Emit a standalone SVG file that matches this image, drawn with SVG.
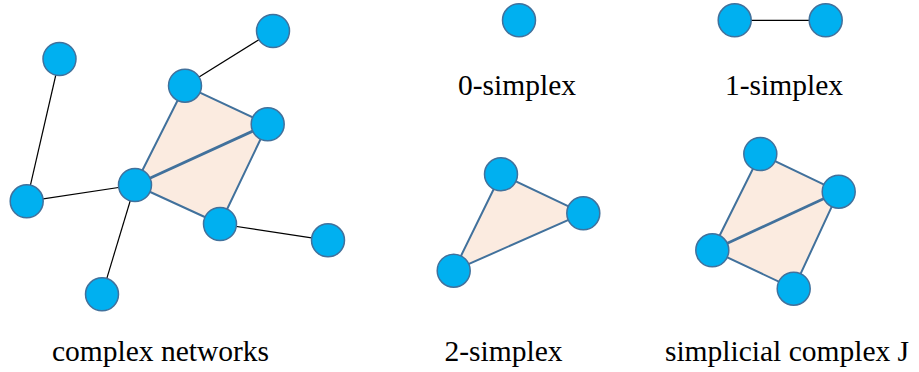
<svg xmlns="http://www.w3.org/2000/svg" width="919" height="372" viewBox="0 0 919 372">
<style>
.n{fill:#00B0F0;stroke:#41719C;stroke-width:1.5}
.e{stroke:#000;stroke-width:1.2;fill:none}
.s{fill:#FBEBE0;stroke:#41719C;stroke-width:2;stroke-linejoin:round}
.d{stroke:#41719C;stroke-width:2.8;fill:none}
text{font-family:"Liberation Serif","Times New Roman",serif;font-size:29.5px;fill:#000;text-anchor:middle}
</style>
<rect width="919" height="372" fill="#fff"/>
<g id="faces">
<polygon class="s" points="185,85.7 267.7,124.3 220,224 135,185"/>
<polygon class="s" points="501,174.3 583.3,213.3 453.7,270.7"/>
<polygon class="s" points="760.3,154 838.7,191.7 793.7,288.7 712.3,250.3"/>
</g>
<g id="connectors">
<line class="d" x1="135" y1="185" x2="267.7" y2="124.3"/>
<line class="d" x1="712.3" y1="250.3" x2="838.7" y2="191.7"/>
<line class="e" x1="59.5" y1="59" x2="26.7" y2="201.3"/>
<line class="e" x1="26.7" y1="201.3" x2="135" y2="185"/>
<line class="e" x1="135" y1="185" x2="102" y2="294.3"/>
<line class="e" x1="185" y1="85.7" x2="273" y2="31"/>
<line class="e" x1="220" y1="224" x2="328" y2="240.3"/>
<line class="e" x1="734.7" y1="20.3" x2="825.7" y2="20.3"/>
</g>
<g id="nA"><circle class="n" cx="59.5" cy="59" r="16.5"/></g>
<g id="nB"><circle class="n" cx="273" cy="31" r="16.5"/></g>
<g id="nC"><circle class="n" cx="185" cy="85.7" r="16.5"/></g>
<g id="nD"><circle class="n" cx="267.7" cy="124.3" r="16.5"/></g>
<g id="nE"><circle class="n" cx="135" cy="185" r="16.5"/></g>
<g id="nF"><circle class="n" cx="26.7" cy="201.3" r="16.5"/></g>
<g id="nG"><circle class="n" cx="220" cy="224" r="16.5"/></g>
<g id="nH"><circle class="n" cx="328" cy="240.3" r="16.5"/></g>
<g id="nI"><circle class="n" cx="102" cy="294.3" r="16.5"/></g>
<g id="s0"><circle class="n" cx="519" cy="20.3" r="16.5"/></g>
<g id="s1a"><circle class="n" cx="734.7" cy="20.3" r="16.5"/></g>
<g id="s1b"><circle class="n" cx="825.7" cy="20.3" r="16.5"/></g>
<g id="s2a"><circle class="n" cx="501" cy="174.3" r="16.5"/></g>
<g id="s2b"><circle class="n" cx="583.3" cy="213.3" r="16.5"/></g>
<g id="s2c"><circle class="n" cx="453.7" cy="270.7" r="16.5"/></g>
<g id="jA"><circle class="n" cx="760.3" cy="154" r="16.5"/></g>
<g id="jB"><circle class="n" cx="838.7" cy="191.7" r="16.5"/></g>
<g id="jC"><circle class="n" cx="712.3" cy="250.3" r="16.5"/></g>
<g id="jD"><circle class="n" cx="793.7" cy="288.7" r="16.5"/></g>
<g id="labels">
<text x="517" y="95">0-simplex</text>
<text x="784" y="95">1-simplex</text>
<text x="160.5" y="361">complex networks</text>
<text x="503.5" y="361">2-simplex</text>
<text x="787" y="361">simplicial complex J</text>
</g>
</svg>
